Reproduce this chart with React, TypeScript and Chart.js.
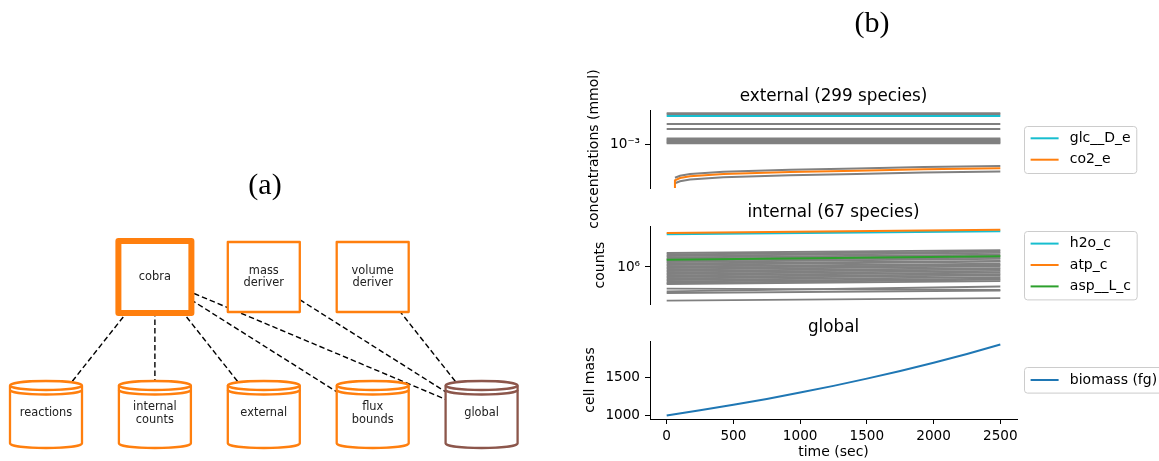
import React, { useEffect, useRef } from 'react';
import { Chart, registerables } from 'chart.js';

Chart.register(...registerables);

const FONT = "'DejaVu Sans', sans-serif";
const SERIF = "'Liberation Serif', 'DejaVu Serif', serif";

// ---------------- panel (a): component diagram ----------------
const processIds = ['cobra', 'mass deriver', 'volume deriver'];
const processCols = [1, 2, 3];
const highlighted = 'cobra';
const storeIds = ['reactions', 'internal counts', 'external', 'flux bounds', 'global'];
const storeCols = [0, 1, 2, 3, 4];
const storeColors = ['#ff7f0e', '#ff7f0e', '#ff7f0e', '#ff7f0e', '#8c564b'];
const edgeFrom = ['cobra', 'cobra', 'cobra', 'cobra', 'cobra', 'mass deriver', 'volume deriver'];
const edgeTo = ['reactions', 'internal counts', 'external', 'flux bounds', 'global', 'global', 'global'];
const processRow = 1;
const storeRow = 0;

// ---------------- panel (b): time series ----------------
const timeSpan = [0, 2500];
const timeTicks = [0, 500, 1000, 1500, 2000, 2500];
const timeMin = -125;
const timeMax = 2625;

// external (299 species)
const extMin = 2.754e-4;
const extMax = 2.754e-3;
const extTicks = [1e-3];
const extTickLabels = ['10⁻³'];
const glcValues = [2.31e-3, 2.31e-3];
const co2Times = [60, 62, 100, 175, 425, 925, 1425, 1925, 2500];
const co2Values = [2.76e-4, 3.45e-4, 3.7e-4, 3.89e-4, 4.16e-4, 4.42e-4, 4.59e-4, 4.78e-4, 4.93e-4];
const extCurveTimes = [62, 100, 175, 425, 925, 1425, 1925, 2500];
const extGrayCurveHigh = [3.73e-4, 3.96e-4, 4.16e-4, 4.45e-4, 4.73e-4, 4.91e-4, 5.11e-4, 5.27e-4];
const extGrayCurveLow = [3.17e-4, 3.36e-4, 3.53e-4, 3.77e-4, 4.01e-4, 4.16e-4, 4.34e-4, 4.47e-4];
const extGrayFlat = [2.5e-3, 2.43e-3, 1.82e-3, 1.57e-3, 1.188e-3, 1.153e-3, 1.119e-3, 1.086e-3, 1.054e-3, 1.03e-3];

// internal (67 species)
const intMin = 3.354e5;
const intMax = 3.354e6;
const intTicks = [1e6];
const intTickLabels = ['10⁶'];
const atpValues = [2.73e6, 3.01e6];
const h2oValues = [2.63e6, 2.87e6];
const aspValues = [1.24e6, 1.37e6];
const intGrayStart = [
  1.511e6, 1.446e6, 1.384e6, 1.324e6, 1.266e6, 1.211e6, 1.159e6, 1.109e6, 1.061e6, 1.015e6, 9.71e5,
  9.29e5, 8.89e5, 8.5e5, 8.13e5, 7.78e5, 7.44e5, 7.12e5, 6.81e5, 6.52e5, 6.23e5, 6.05e5,
  5.27e5, 4.88e5, 4.64e5, 3.7e5,
];
const intGrayEnd = [
  1.65e6, 1.58e6, 1.52e6, 1.44e6, 1.39e6, 1.32e6, 1.27e6, 1.2e6, 1.17e6, 1.1e6, 1.06e6,
  1.02e6, 9.7e5, 9.3e5, 8.9e5, 8.5e5, 8.1e5, 7.8e5, 7.4e5, 7.1e5, 6.9e5, 6.6e5,
  5.07e5, 5.62e5, 4.99e5, 4.0e5,
];

// global
const massTimes = [0, 250, 500, 750, 1000, 1250, 1500, 1750, 2000, 2250, 2500];
const massValues = [1000, 1069, 1142, 1220, 1305, 1394, 1491, 1593, 1702, 1820, 1945];
const massMin = 953;
const massMax = 1992;
const massTicks = [1000, 1500];

const C_GRAY = '#808080';
const C_CYAN = '#17becf';
const C_ORANGE = '#ff7f0e';
const C_GREEN = '#2ca02c';
const C_BLUE = '#1f77b4';

type LegendItem = { label: string; color: string };
type Decor = { title: string; ylabel: string; ylabelX: number; legend: LegendItem[] };

function decorPlugin(cfg: Decor) {
  return {
    id: 'decor',
    afterDraw(chart: any) {
      const ctx: CanvasRenderingContext2D = chart.ctx;
      const a = chart.chartArea;
      ctx.save();
      ctx.fillStyle = '#000';
      ctx.textAlign = 'center';
      ctx.textBaseline = 'middle';
      ctx.font = `16.8px ${FONT}`;
      ctx.fillText(cfg.title, (a.left + a.right) / 2, a.top - 13);

      ctx.save();
      ctx.translate(cfg.ylabelX, (a.top + a.bottom) / 2);
      ctx.rotate(-Math.PI / 2);
      ctx.font = `14px ${FONT}`;
      ctx.fillText(cfg.ylabel, 0, 0);
      ctx.restore();

      ctx.font = `14px ${FONT}`;
      const n = cfg.legend.length;
      const pad = 5.6;
      const rowH = 14.4;
      const gap = 7;
      const handle = 28;
      const hgap = 11.2;
      const h = n * rowH + (n - 1) * gap + 2 * pad;
      const tw = Math.max(...cfg.legend.map((l) => ctx.measureText(l.label).width));
      const w = pad + 1 + handle + hgap + tw + pad;
      const x0 = a.right + 7;
      const y0 = (a.top + a.bottom) / 2 - h / 2;
      ctx.beginPath();
      (ctx as any).roundRect(x0 + 0.5, Math.round(y0) + 0.5, w, h, 3);
      ctx.fillStyle = 'rgba(255,255,255,0.8)';
      ctx.fill();
      ctx.strokeStyle = '#cccccc';
      ctx.lineWidth = 1;
      ctx.stroke();
      cfg.legend.forEach((l, i) => {
        const cy = y0 + pad + rowH / 2 + i * (rowH + gap);
        ctx.beginPath();
        ctx.moveTo(x0 + pad + 1, cy);
        ctx.lineTo(x0 + pad + 1 + handle, cy);
        ctx.strokeStyle = l.color;
        ctx.lineWidth = 2;
        ctx.stroke();
        ctx.fillStyle = '#000';
        ctx.textAlign = 'left';
        ctx.fillText(l.label, x0 + pad + 1 + handle + hgap, cy);
      });
      ctx.restore();
    },
  };
}

function lineDs(times: number[], values: number[], color: string, width = 2) {
  return {
    data: times.map((t, i) => ({ x: t, y: values[i] })),
    borderColor: color,
    borderWidth: width,
    pointRadius: 0,
    fill: false,
    tension: 0,
  };
}

function yAxis(type: string, min: number, max: number, ticks: number[], labels: string[] | null) {
  return {
    type,
    min,
    max,
    afterBuildTicks: (axis: any) => {
      axis.ticks = ticks.map((v) => ({ value: v }));
    },
    afterFit: (axis: any) => {
      axis.width = 90;
    },
    ticks: {
      callback: (v: number) => {
        const i = ticks.indexOf(v);
        return labels ? (i >= 0 ? labels[i] : '') : String(v);
      },
      font: { family: FONT, size: 13.6 },
      color: '#000',
      padding: 5,
    },
    grid: { display: true, drawOnChartArea: false, drawTicks: true, tickLength: 5, color: '#000', lineWidth: 1 },
    border: { display: true, color: '#000', width: 1 },
  };
}

function panelConfig(
  datasets: any[],
  y: any,
  showX: boolean,
  padTop: number,
  padBottom: number,
  decor: Decor,
) {
  return {
    type: 'line',
    data: { datasets },
    options: {
      responsive: false,
      animation: false,
      layout: { padding: { left: 0, right: 142, top: padTop, bottom: padBottom } },
      plugins: { legend: { display: false }, tooltip: { enabled: false }, title: { display: false } },
      scales: {
        x: {
          type: 'linear',
          min: timeMin,
          max: timeMax,
          display: showX,
          afterBuildTicks: (axis: any) => {
            axis.ticks = timeTicks.map((v) => ({ value: v }));
          },
          afterFit: (axis: any) => {
            axis.height = showX ? 42 : 0;
          },
          ticks: {
            font: { family: FONT, size: 13.6 },
            color: '#000',
            padding: 4,
            maxRotation: 0,
            callback: (v: number) => String(v),
          },
          grid: { display: true, drawOnChartArea: false, drawTicks: true, tickLength: 5, color: '#000', lineWidth: 1 },
          border: { display: true, color: '#000', width: 1 },
          title: { display: true, text: 'time (sec)', color: '#000', font: { family: FONT, size: 14 }, padding: { top: 0, bottom: 0 } },
        },
        y,
      },
    },
    plugins: [decorPlugin(decor)],
  };
}

function externalConfig() {
  const ds = [
    lineDs(timeSpan, glcValues, C_CYAN),
    lineDs(co2Times, co2Values, C_ORANGE),
    lineDs(extCurveTimes, extGrayCurveHigh, C_GRAY),
    lineDs(extCurveTimes, extGrayCurveLow, C_GRAY),
    ...extGrayFlat.map((v) => lineDs(timeSpan, [v, v], C_GRAY)),
  ];
  return panelConfig(ds, yAxis('logarithmic', extMin, extMax, extTicks, extTickLabels), false, 110, 52, {
    title: 'external (299 species)',
    ylabel: 'concentrations (mmol)',
    ylabelX: 594 - 560,
    legend: [
      { label: 'glc__D_e', color: C_CYAN },
      { label: 'co2_e', color: C_ORANGE },
    ],
  });
}

function internalConfig() {
  const ds = [
    lineDs(timeSpan, atpValues, C_ORANGE),
    lineDs(timeSpan, h2oValues, C_CYAN),
    lineDs(timeSpan, aspValues, C_GREEN),
    ...intGrayStart.map((v, i) => lineDs(timeSpan, [v, intGrayEnd[i]], C_GRAY, 1.8)),
  ];
  return panelConfig(ds, yAxis('logarithmic', intMin, intMax, intTicks, intTickLabels), false, 46, 26, {
    title: 'internal (67 species)',
    ylabel: 'counts',
    ylabelX: 600 - 560,
    legend: [
      { label: 'h2o_c', color: C_CYAN },
      { label: 'atp_c', color: C_ORANGE },
      { label: 'asp__L_c', color: C_GREEN },
    ],
  });
}

function globalConfig() {
  const ds = [lineDs(massTimes, massValues, C_BLUE)];
  return panelConfig(ds, yAxis('linear', massMin, massMax, massTicks, null), true, 51, 0, {
    title: 'global',
    ylabel: 'cell mass',
    ylabelX: 590 - 560,
    legend: [{ label: 'biomass (fg)', color: C_BLUE }],
  });
}

function nodePos(id: string) {
  const p = processIds.indexOf(id);
  if (p >= 0) return { x: processCols[p], y: processRow };
  const s = storeIds.indexOf(id);
  return { x: storeCols[s], y: storeRow };
}

function drawLabel(ctx: CanvasRenderingContext2D, text: string, cx: number, cy: number) {
  const lines = text.split(' ');
  ctx.fillStyle = '#222';
  ctx.font = `11.4px ${FONT}`;
  ctx.textAlign = 'center';
  ctx.textBaseline = 'middle';
  lines.forEach((ln, i) => ctx.fillText(ln, cx, cy + (i - (lines.length - 1) / 2) * 12.5));
}

const nodesPlugin = {
  id: 'nodes',
  afterDatasetsDraw(chart: any) {
    const ctx: CanvasRenderingContext2D = chart.ctx;
    const xs = chart.scales.x;
    const ys = chart.scales.y;
    ctx.save();
    processIds.forEach((id, i) => {
      const cx = xs.getPixelForValue(processCols[i]);
      const cy = ys.getPixelForValue(processRow);
      const thick = id === highlighted;
      const w = thick ? 73 : 72;
      const h = thick ? 72 : 70;
      ctx.beginPath();
      ctx.rect(cx - w / 2, cy - h / 2, w, h);
      ctx.fillStyle = '#fff';
      ctx.fill();
      ctx.lineJoin = 'round';
      ctx.lineWidth = thick ? 6 : 2.3;
      ctx.strokeStyle = C_ORANGE;
      ctx.stroke();
      drawLabel(ctx, id, cx, cy);
    });
    storeIds.forEach((id, i) => {
      const cx = xs.getPixelForValue(storeCols[i]);
      const cy = ys.getPixelForValue(storeRow);
      const rx = 36;
      const ry = 4.5;
      const top = cy - 33.5;
      const bot = cy + 33.5;
      ctx.beginPath();
      ctx.moveTo(cx - rx, top + ry);
      ctx.ellipse(cx, top + ry, rx, ry, 0, Math.PI, 2 * Math.PI);
      ctx.lineTo(cx + rx, bot - ry);
      ctx.ellipse(cx, bot - ry, rx, ry, 0, 0, Math.PI);
      ctx.closePath();
      ctx.fillStyle = '#fff';
      ctx.fill();
      ctx.strokeStyle = storeColors[i];
      ctx.lineWidth = 2.3;
      ctx.stroke();
      ctx.beginPath();
      ctx.ellipse(cx, top + ry, rx, ry, 0, 0, Math.PI);
      ctx.stroke();
      ctx.beginPath();
      ctx.ellipse(cx, top + ry + 4.5, rx, ry, 0, 0, Math.PI);
      ctx.stroke();
      drawLabel(ctx, id, cx, cy - 1);
    });
    ctx.restore();
  },
};

function diagramConfig() {
  return {
    type: 'scatter',
    data: {
      datasets: edgeFrom.map((f, i) => ({
        data: [nodePos(f), nodePos(edgeTo[i])],
        showLine: true,
        borderColor: '#000',
        borderWidth: 1.4,
        borderDash: [5.5, 3],
        pointRadius: 0,
        fill: false,
      })),
    },
    options: {
      responsive: false,
      animation: false,
      layout: { padding: 0 },
      plugins: { legend: { display: false }, tooltip: { enabled: false } },
      scales: {
        x: { type: 'linear', display: false, min: -0.4224, max: 4.72 },
        y: { type: 'linear', display: false, min: -0.3382, max: 3.0145 },
      },
    },
    plugins: [nodesPlugin],
  };
}

function ChartCanvas(props: { left: number; top: number; width: number; height: number; make: () => any }) {
  const ref = useRef<HTMLCanvasElement>(null);
  useEffect(() => {
    const chart = new Chart(ref.current as HTMLCanvasElement, props.make());
    return () => chart.destroy();
  }, []);
  return (
    <canvas
      ref={ref}
      width={props.width}
      height={props.height}
      style={{ position: 'absolute', left: props.left, top: props.top, width: props.width, height: props.height }}
    />
  );
}

const panelLabelStyle = (cx: number, cy: number): React.CSSProperties => ({
  position: 'absolute',
  left: cx - 50,
  top: cy - 17,
  width: 100,
  height: 34,
  lineHeight: '34px',
  textAlign: 'center',
  fontFamily: SERIF,
  fontSize: 30,
  color: '#000',
});

export default function App() {
  return (
    <div style={{ position: 'absolute', left: 0, top: 0, width: 1159, height: 461, background: '#fff', overflow: 'hidden' }}>
      <ChartCanvas left={0} top={0} width={560} height={461} make={diagramConfig} />
      <ChartCanvas left={560} top={0} width={599} height={240} make={externalConfig} />
      <ChartCanvas left={560} top={180} width={599} height={150} make={internalConfig} />
      <ChartCanvas left={560} top={290} width={599} height={171} make={globalConfig} />
      <div style={panelLabelStyle(265, 184)}>(a)</div>
      <div style={panelLabelStyle(872, 22)}>(b)</div>
    </div>
  );
}
